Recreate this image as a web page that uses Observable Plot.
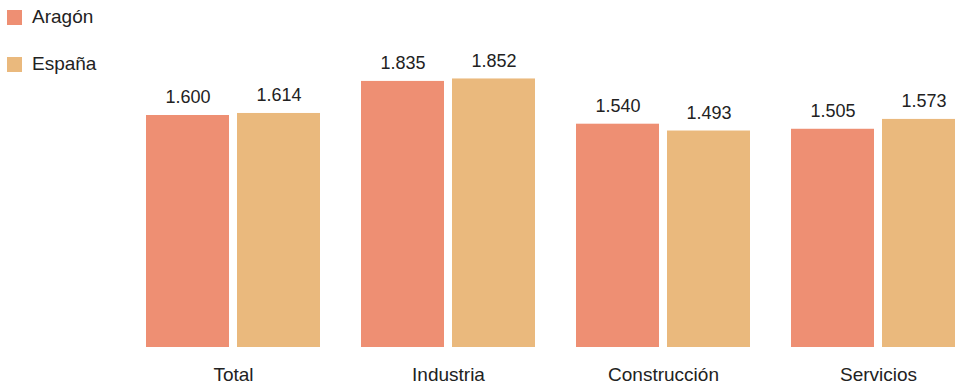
<!DOCTYPE html>
<html>
<head>
<meta charset="utf-8">
<script src="https://cdn.jsdelivr.net/npm/d3@7"></script>
<script src="https://cdn.jsdelivr.net/npm/@observablehq/plot@0.6"></script>
<style>
  html, body { margin: 0; padding: 0; background: #fff; overflow: hidden; width: 955px; height: 382px; }
  body { position: relative; font-family: "Liberation Sans", Arial, sans-serif; }
  #legend { position: absolute; left: 7px; top: 0; z-index: 2; }
  .item { position: absolute; left: 0; display: flex; align-items: center; font-size: 19px; color: #222; white-space: nowrap; }
  .sw { width: 15px; height: 15px; margin-right: 10px; }
  #chart { position: absolute; left: 0; top: 0; width: 965px; }
  #chart svg { max-width: none !important; }
</style>
</head>
<body>
<div id="legend"></div>
<div id="chart"></div>
<script>
const categories = ["Total", "Industria", "Construcción", "Servicios"];
const seriesNames = ["Aragón", "España"];
const aragon = [1600, 1835, 1540, 1505];
const espana = [1614, 1852, 1493, 1573];
const colors = ["#EE8F73", "#EAB97D"];

const data = [];
categories.forEach((c, i) => {
  data.push({category: c, series: seriesNames[0], value: aragon[i]});
  data.push({category: c, series: seriesNames[1], value: espana[i]});
});

const fmt = d3.formatLocale({decimal: ",", thousands: ".", grouping: [3], currency: ["", "€"]}).format(",d");

const chart = Plot.plot({
  width: 965,
  height: 382,
  marginLeft: 146,
  marginRight: 0,
  marginTop: 28,
  marginBottom: 35,
  style: {fontFamily: "Liberation Sans, Arial, sans-serif", fontSize: "18px", color: "#222", background: "transparent", overflow: "visible", maxWidth: "none"},
  fx: {domain: categories, range: [146, 965], paddingInner: 0.1907, paddingOuter: 0, round: false, label: null},
  x: {domain: seriesNames, paddingInner: 0.088, paddingOuter: 0, round: false, axis: null},
  y: {domain: [0, 2200], range: [347, 28], axis: null},
  color: {domain: seriesNames, range: colors},
  marks: [
    Plot.barY(data, {fx: "category", x: "series", y: "value", fill: "series"}),
    Plot.text(data, {fx: "category", x: "series", y: "value", text: d => fmt(d.value), dy: -18, fontSize: 18, fill: "#222"}),
    Plot.axisFx({anchor: "bottom", tickSize: 0, tickPadding: 20, fontSize: 19, label: null, fill: "#222"})
  ]
});
document.getElementById("chart").appendChild(chart);

const legend = document.getElementById("legend");
seriesNames.forEach((s, i) => {
  const it = document.createElement("div");
  it.className = "item";
  it.style.top = (i === 0 ? 6 : 53) + "px";
  const sw = document.createElement("div");
  sw.className = "sw";
  sw.style.background = colors[i];
  const t = document.createElement("span");
  t.textContent = s;
  it.appendChild(sw);
  it.appendChild(t);
  legend.appendChild(it);
});
</script>
</body>
</html>
